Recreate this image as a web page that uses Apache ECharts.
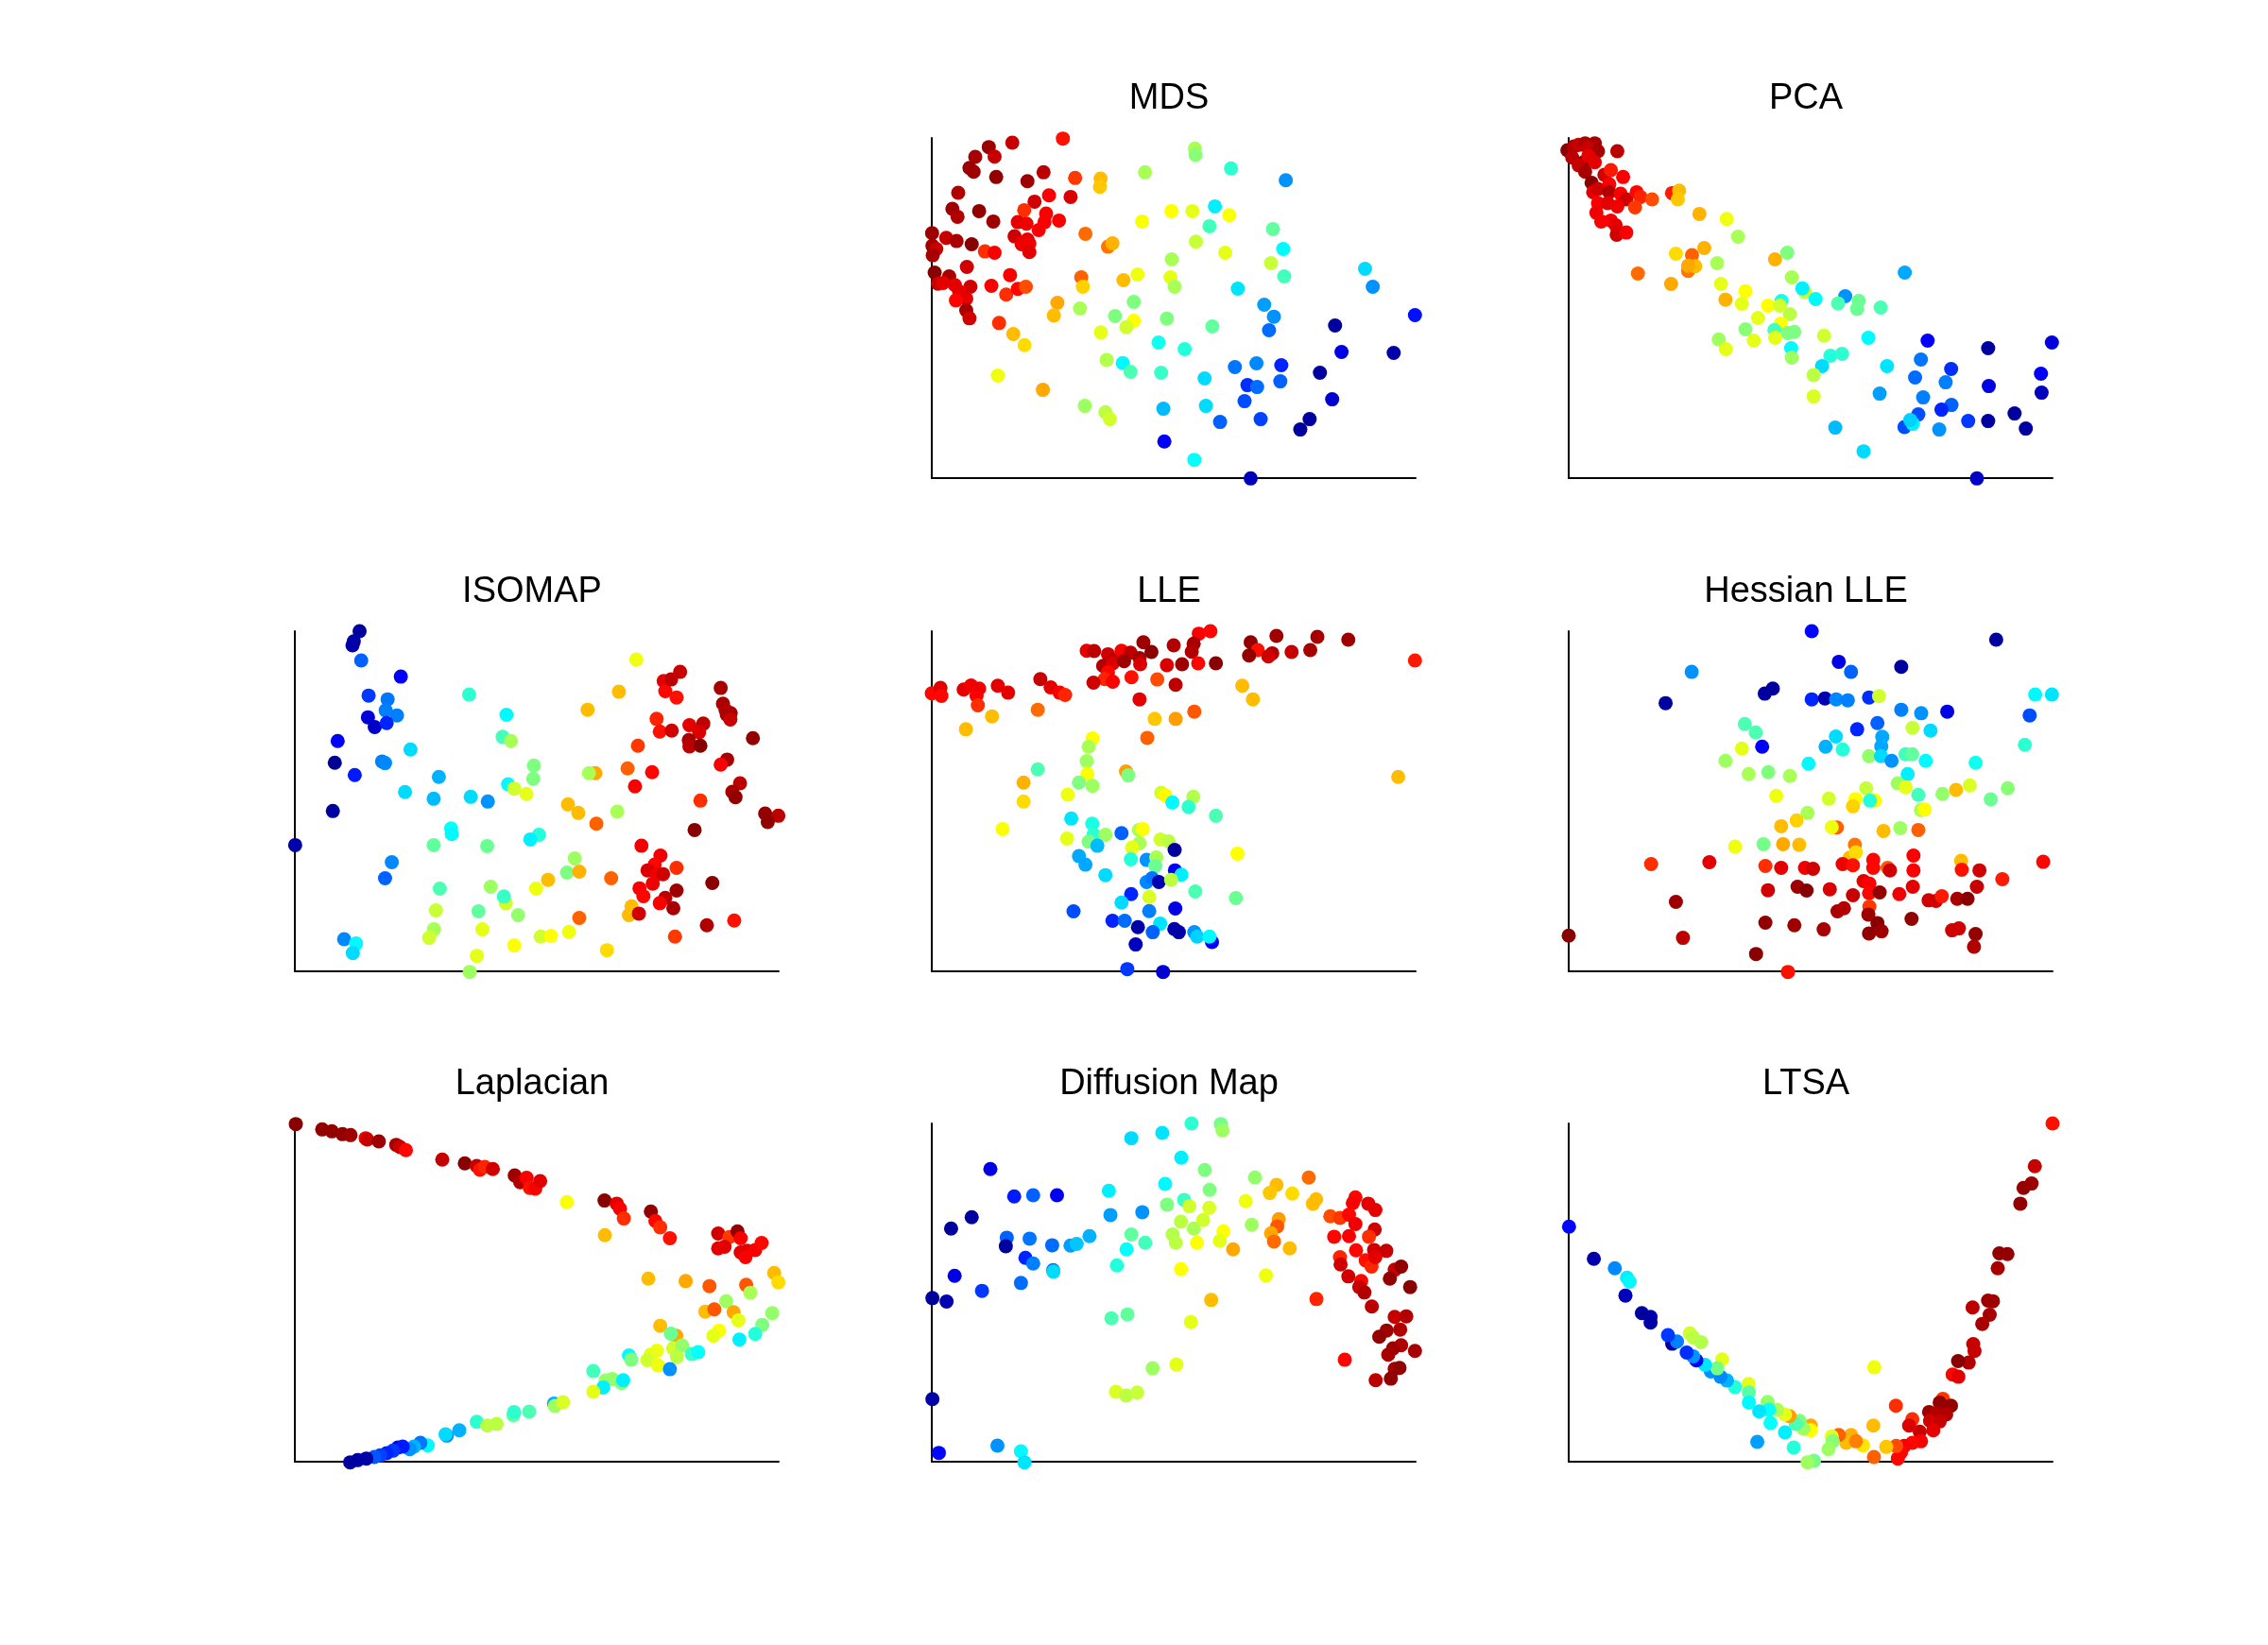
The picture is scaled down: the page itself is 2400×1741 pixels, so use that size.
<!DOCTYPE html>
<html>
<head>
<meta charset="utf-8">
<title>dimensionality reduction</title>
<script src="https://cdn.jsdelivr.net/npm/echarts@6/dist/echarts.min.js"></script>
<style>
  html, body { margin: 0; padding: 0; background: #fff; }
  #main { width: 2400px; height: 1741px; }
</style>
</head>
<body>
<div id="main"></div>
<script>
// every point is [x, y, colour value 0..1]; x/y in arbitrary units (y grows downwards)
var titles = ["MDS", "PCA", "ISOMAP", "LLE", "Hessian LLE", "Laplacian", "Diffusion Map", "LTSA"];
// data extents of each panel: [xmin, xmax], [ytop, ybottom]
var xRanges = [[33,1535],[29,1532],[35,1537],[33,1535],[29,1532],[35,1538],[32,1535],[29,1530]];
var yRanges = [[33,1112],[33,1112],[40,1118],[40,1118],[40,1118],[45,1120],[45,1120],[45,1120]];

var mdsPts = [
[440,35,0.86],[283,48,0.93],[210,62,0.97],[228,92,0.93],[168,93,0.96],[150,128,0.97],[163,140,0.97],[233,157,0.98],
[330,170,0.97],[380,142,0.94],[478,160,0.82],[557,162,0.69],[555,188,0.68],[695,142,0.54],[850,67,0.54],[852,87,0.51],
[962,130,0.42],[1132,167,0.27],[115,207,0.95],[97,258,0.97],[113,283,0.95],[180,265,0.98],[224,298,0.97],[352,235,0.92],
[397,215,0.88],[464,220,0.91],[320,262,0.83],[388,273,0.88],[300,300,0.9],[327,305,0.89],[383,300,0.88],[428,295,0.88],
[365,325,0.88],[290,345,0.92],[330,355,0.9],[312,370,0.89],[336,368,0.89],[336,395,0.9],[34,335,0.97],[78,350,0.93],
[110,360,0.96],[157,370,0.99],[35,375,0.97],[47,385,0.93],[36,405,0.96],[198,393,0.83],[228,397,0.88],[142,442,0.92],
[42,460,0.99],[87,472,0.96],[52,495,0.93],[68,493,0.9],[105,500,0.9],[153,505,0.92],[118,520,0.9],[140,543,0.9],
[108,548,0.87],[140,580,0.96],[150,605,0.92],[218,502,0.88],[276,468,0.88],[264,530,0.83],[300,512,0.87],[325,505,0.8],
[242,620,0.83],[286,655,0.69],[321,690,0.66],[238,787,0.61],[378,832,0.71],[510,337,0.77],[580,378,0.76],[594,367,0.7],
[686,298,0.62],[777,265,0.625],[842,265,0.6],[912,250,0.36],[957,278,0.62],[895,313,0.44],[1092,322,0.47],[1124,385,0.37],
[853,362,0.57],[944,397,0.6],[778,418,0.54],[1086,430,0.57],[1127,472,0.44],[774,475,0.6],[787,505,0.54],[672,466,0.61],
[628,484,0.69],[497,475,0.78],[502,505,0.67],[423,556,0.71],[412,596,0.69],[493,574,0.54],[660,553,0.5],[602,598,0.5],
[660,613,0.625],[637,633,0.58],[558,650,0.6],[763,606,0.5],[904,631,0.47],[983,511,0.35],[1378,448,0.34],[1402,505,0.27],
[1533,595,0.14],[1065,562,0.28],[1095,600,0.27],[1080,643,0.23],[1285,628,0.03],[1305,712,0.1],[1467,715,0.04],[737,682,0.39],
[818,703,0.41],[576,737,0.55],[626,747,0.37],[650,775,0.45],[745,778,0.43],[880,796,0.34],[974,760,0.24],[1041,748,0.26],
[1118,754,0.16],[1013,817,0.17],[1043,823,0.23],[1115,805,0.22],[1238,778,0.03],[1004,868,0.2],[1276,862,0.08],[884,883,0.34],
[752,892,0.31],[508,883,0.53],[572,903,0.56],[586,925,0.58],[928,934,0.22],[1054,925,0.19],[1206,925,0.03],[1177,958,0.03],
[755,996,0.12],[848,1054,0.38],[1023,1113,0.06]
];

var pcaPts = [
[25,72,0.99],[45,60,0.95],[60,55,0.93],[80,50,0.95],[110,50,0.96],[90,65,0.93],[120,75,0.96],[180,75,0.94],
[40,95,0.94],[75,110,0.99],[110,110,0.9],[60,120,0.93],[90,90,0.9],[80,140,0.96],[100,175,0.99],[140,150,0.92],
[160,135,0.85],[198,157,0.88],[155,180,0.88],[105,205,0.9],[120,195,0.92],[155,205,0.95],[190,210,0.88],[208,228,0.92],
[240,205,0.87],[252,220,0.84],[288,228,0.8],[235,253,0.82],[120,240,0.88],[150,240,0.9],[180,250,0.89],[115,270,0.89],
[130,298,0.88],[160,295,0.88],[175,310,0.9],[178,340,0.92],[208,333,0.88],[350,208,0.85],[372,200,0.69],[368,228,0.68],
[435,274,0.7],[520,290,0.61],[555,346,0.54],[362,400,0.66],[412,405,0.78],[450,382,0.7],[400,455,0.76],[422,440,0.69],
[400,438,0.71],[244,463,0.77],[347,496,0.71],[490,430,0.54],[502,496,0.6],[516,546,0.7],[578,519,0.625],[567,559,0.6],
[670,418,0.7],[708,397,0.5],[722,475,0.54],[648,565,0.625],[690,550,0.39],[685,565,0.58],[716,592,0.56],[617,604,0.6],
[688,622,0.625],[668,642,0.44],[670,667,0.6],[710,652,0.5],[730,648,0.5],[578,640,0.51],[604,676,0.6],[495,672,0.53],
[517,703,0.6],[720,700,0.37],[722,730,0.53],[763,522,0.57],[755,510,0.36],[796,544,0.37],[888,535,0.27],[866,558,0.45],
[930,550,0.48],[925,575,0.48],[998,571,0.45],[1073,460,0.29],[822,660,0.58],[960,667,0.37],[842,724,0.41],[878,718,0.42],
[816,757,0.34],[790,785,0.56],[790,853,0.59],[1018,757,0.35],[1144,676,0.12],[1123,736,0.24],[1105,793,0.23],[1200,808,0.25],
[1217,766,0.17],[1130,856,0.25],[995,844,0.28],[1218,880,0.22],[1187,895,0.16],[1115,910,0.2],[1072,950,0.2],[1098,940,0.36],
[1090,928,0.33],[1180,958,0.27],[1270,931,0.18],[1332,700,0.03],[1334,820,0.1],[1332,931,0.03],[1414,907,0.03],[1449,955,0.03],
[1498,841,0.06],[1496,781,0.12],[1530,682,0.09],[857,952,0.31],[945,1027,0.34],[1297,1113,0.07]
];

var isomapPts = [
[236,40,0.03],[218,72,0.04],[214,85,0.04],[241,133,0.22],[364,184,0.12],[264,244,0.18],[323,256,0.24],[317,291,0.25],
[352,307,0.25],[262,313,0.09],[283,344,0.07],[320,331,0.16],[168,388,0.12],[159,457,0.02],[221,496,0.15],[306,453,0.25],
[315,458,0.26],[394,415,0.34],[377,550,0.34],[153,610,0.03],[36,718,0.04],[336,772,0.26],[315,823,0.22],[188,1016,0.26],
[225,1030,0.37],[215,1060,0.34],[576,241,0.42],[692,305,0.37],[680,375,0.44],[706,388,0.54],[482,502,0.3],[466,571,0.31],
[581,565,0.34],[634,580,0.27],[520,665,0.38],[522,683,0.37],[777,466,0.5],[775,508,0.5],[697,525,0.37],[716,539,0.58],
[754,556,0.6],[793,685,0.41],[766,700,0.36],[466,718,0.47],[632,721,0.48],[485,856,0.45],[473,925,0.57],[467,985,0.54],
[452,1012,0.58],[578,1120,0.53],[600,1069,0.6],[605,928,0.47],[617,985,0.6],[643,850,0.53],[690,902,0.58],[684,881,0.43],
[728,940,0.52],[716,1036,0.625],[798,1008,0.58],[830,1006,0.625],[886,993,0.61],[784,856,0.61],[821,828,0.69],[880,805,0.5],
[904,760,0.53],[918,802,0.7],[918,949,0.78],[1004,1051,0.66],[883,589,0.69],[915,616,0.69],[971,650,0.78],[1036,612,0.54],
[968,490,0.71],[948,490,0.54],[944,289,0.69],[1041,232,0.69],[1095,130,0.61],[1068,475,0.78],[1144,487,0.87],[1091,532,0.88],
[1100,403,0.82],[1158,318,0.84],[1168,358,0.86],[1205,355,0.92],[1180,198,0.9],[1185,230,0.87],[1203,193,0.94],[1231,169,0.93],
[1220,250,0.86],[1260,338,0.9],[1303,333,0.94],[1290,360,0.91],[1258,385,0.96],[1260,405,0.94],[1294,403,0.99],[1357,220,0.96],
[1364,270,0.96],[1372,290,0.95],[1388,300,0.96],[1376,305,0.96],[1387,320,0.93],[1457,379,0.98],[1377,447,0.96],[1357,463,0.88],
[1417,522,0.94],[1393,549,0.96],[1403,566,0.98],[1294,577,0.83],[1495,618,0.98],[1536,625,0.94],[1503,645,0.98],[1276,670,0.99],
[1111,720,0.89],[1170,751,0.89],[1220,790,0.83],[1017,823,0.78],[1152,780,0.87],[1130,798,0.91],[1160,810,0.89],[1178,810,0.92],
[1146,840,0.89],[1105,855,0.88],[1117,880,0.87],[1220,862,0.97],[1185,885,0.94],[1168,902,0.88],[1210,918,0.96],[1331,838,0.99],
[1080,912,0.69],[1072,940,0.69],[1103,935,0.92],[1314,972,0.95],[1399,957,0.86],[1215,1008,0.82]
];

var llePts = [
[33,237,0.87],[60,220,0.9],[63,245,0.87],[132,225,0.9],[155,212,0.89],[180,222,0.89],[172,245,0.88],[176,275,0.83],
[238,213,0.9],[270,235,0.9],[220,310,0.69],[139,351,0.69],[370,192,0.93],[402,218,0.9],[430,235,0.88],[447,242,0.84],
[362,289,0.77],[514,102,0.9],[537,103,0.94],[580,113,0.92],[600,130,0.95],[622,102,0.88],[650,108,0.94],[678,125,0.96],
[690,75,0.97],[715,106,0.99],[565,150,0.95],[595,142,0.91],[630,135,0.97],[680,145,0.91],[580,170,0.87],[570,192,0.84],
[595,200,0.88],[535,203,0.92],[653,186,0.86],[678,256,0.9],[733,193,0.8],[784,85,0.95],[763,148,0.91],[810,145,0.97],
[790,210,0.94],[862,48,0.88],[898,40,0.87],[846,80,0.96],[840,105,0.95],[860,142,0.87],[915,142,0.99],[1023,75,0.98],
[1045,100,0.86],[1018,117,0.98],[1090,110,0.95],[1078,120,0.92],[1103,55,0.97],[1150,106,0.93],[1208,100,0.96],[1230,58,0.96],
[1326,67,0.97],[1533,133,0.85],[997,213,0.69],[1030,256,0.69],[725,318,0.68],[790,318,0.72],[848,295,0.79],[702,378,0.78],
[1481,502,0.69],[532,380,0.625],[520,406,0.54],[514,452,0.53],[516,492,0.62],[490,520,0.5],[532,530,0.53],[636,485,0.72],
[643,497,0.5],[362,478,0.45],[318,520,0.7],[318,580,0.66],[455,558,0.61],[253,667,0.62],[745,552,0.58],[758,560,0.63],
[780,583,0.37],[845,565,0.55],[830,597,0.42],[915,625,0.45],[466,634,0.35],[531,650,0.4],[535,685,0.42],[572,685,0.53],
[453,697,0.6],[520,707,0.5],[547,720,0.31],[622,680,0.22],[676,670,0.54],[688,667,0.625],[678,712,0.54],[655,726,0.6],
[743,700,0.58],[768,706,0.56],[787,733,0.03],[982,745,0.625],[490,753,0.29],[510,780,0.29],[651,763,0.41],[700,765,0.27],
[730,757,0.54],[727,784,0.48],[572,813,0.34],[788,798,0.12],[808,812,0.36],[700,835,0.26],[717,823,0.24],[738,835,0.05],
[776,828,0.56],[652,873,0.16],[708,882,0.59],[851,865,0.45],[977,886,0.48],[622,900,0.34],[473,928,0.2],[708,927,0.25],
[789,919,0.1],[594,958,0.16],[632,958,0.23],[742,967,0.35],[673,978,0.04],[719,994,0.22],[786,984,0.04],[800,994,0.04],
[848,994,0.27],[857,1008,0.33],[903,1025,0.12],[895,1008,0.37],[666,1033,0.06],[640,1111,0.18],[751,1120,0.08]
];

var hessianPts = [
[784,40,0.13],[1357,67,0.03],[868,137,0.1],[1062,153,0.03],[906,169,0.22],[411,169,0.27],[330,268,0.03],[638,238,0.03],
[663,222,0.03],[784,256,0.16],[825,253,0.05],[860,256,0.26],[896,259,0.25],[962,250,0.17],[993,246,0.58],[1062,289,0.25],
[1124,300,0.27],[1205,295,0.1],[988,331,0.22],[925,351,0.16],[1097,346,0.57],[1153,355,0.34],[1478,241,0.37],[1530,241,0.35],
[1461,307,0.2],[1446,400,0.42],[576,334,0.45],[610,361,0.45],[567,412,0.6],[630,406,0.12],[516,451,0.53],[588,493,0.54],
[649,487,0.5],[716,499,0.54],[774,460,0.37],[859,374,0.34],[827,406,0.3],[880,415,0.41],[1003,375,0.29],[1000,405,0.29],
[962,436,0.52],[999,436,0.34],[1032,451,0.27],[1075,430,0.44],[1096,430,0.47],[1138,451,0.37],[1293,457,0.39],[1082,493,0.36],
[1051,522,0.53],[1076,535,0.6],[1115,559,0.44],[1190,556,0.52],[1232,543,0.69],[1275,529,0.59],[1340,573,0.48],[1393,538,0.51],
[953,538,0.57],[837,571,0.58],[674,562,0.61],[920,572,0.625],[980,577,0.625],[965,577,0.41],[912,595,0.67],[1123,607,0.54],
[1135,605,0.625],[771,616,0.54],[737,640,0.67],[689,658,0.69],[862,662,0.78],[846,661,0.61],[1007,673,0.69],[1059,664,0.53],
[1115,670,0.78],[546,723,0.61],[634,715,0.49],[695,715,0.71],[745,717,0.69],[918,717,0.76],[902,758,0.69],[921,741,0.66],
[285,778,0.83],[466,772,0.9],[640,784,0.83],[689,790,0.9],[763,790,0.89],[788,793,0.92],[880,778,0.89],[912,782,0.86],
[975,765,0.87],[975,790,0.87],[1020,790,0.79],[1027,798,0.92],[1100,751,0.88],[1100,798,0.88],[1248,768,0.69],[1250,796,0.86],
[1305,798,0.92],[1376,826,0.85],[1503,771,0.87],[648,861,0.92],[740,850,0.97],[768,862,0.99],[840,858,0.91],[912,877,0.93],
[945,832,0.9],[963,840,0.88],[962,870,0.87],[995,868,0.98],[1056,873,0.89],[1098,850,0.9],[1147,893,0.92],[1170,895,0.92],
[1188,880,0.85],[1236,888,0.96],[1268,888,0.99],[1297,850,0.93],[362,898,0.97],[864,928,0.96],[884,918,0.95],[963,913,0.82],
[960,938,0.97],[988,965,0.99],[1001,991,0.97],[962,998,0.98],[1094,952,0.98],[640,964,0.98],[730,972,0.97],[821,985,0.96],
[1220,988,0.92],[1241,982,0.92],[1293,1000,0.98],[1288,1040,0.95],[29,1005,0.99],[384,1012,0.94],[611,1063,0.99],[710,1120,0.86]
];

var laplacianPts = [
[38,47,0.99],[120,64,0.98],[150,70,0.98],[183,79,0.98],[208,82,0.97],[255,92,0.88],[260,96,0.93],[296,102,0.97],
[350,113,0.96],[362,120,0.93],[380,130,0.87],[493,160,0.93],[563,172,0.99],[600,180,0.93],[610,192,0.86],[625,183,0.84],
[650,190,0.92],[718,210,0.97],[735,232,0.95],[755,218,0.88],[765,250,0.86],[782,252,0.88],[797,228,0.9],[880,295,0.62],
[997,290,0.99],[1035,300,0.9],[1045,316,0.88],[1057,347,0.83],[998,400,0.69],[1141,325,0.98],[1155,355,0.87],[1170,375,0.83],
[1200,410,0.86],[1350,395,0.92],[1385,406,0.82],[1410,388,0.98],[1420,410,0.88],[1350,442,0.9],[1370,437,0.9],[1420,455,0.9],
[1440,450,0.9],[1465,447,0.88],[1485,425,0.87],[1435,470,0.88],[1133,538,0.69],[1249,546,0.71],[1323,562,0.79],[1437,558,0.79],
[1450,583,0.54],[1524,520,0.69],[1537,550,0.66],[1375,610,0.53],[1310,643,0.69],[1338,636,0.79],[1398,645,0.71],[1413,671,0.6],
[1518,648,0.52],[1487,685,0.5],[1353,703,0.625],[1335,720,0.6],[1416,732,0.36],[1465,714,0.41],[1170,688,0.69],[1220,720,0.71],
[1203,713,0.48],[1210,760,0.58],[1238,751,0.52],[1160,767,0.61],[1140,780,0.6],[1130,797,0.58],[1163,814,0.61],[1222,787,0.56],
[1268,778,0.43],[1288,772,0.38],[1200,826,0.27],[1073,782,0.37],[1080,796,0.5],[962,832,0.44],[1000,862,0.52],[1021,857,0.52],
[1050,870,0.5],[1055,861,0.36],[993,884,0.36],[962,898,0.6],[840,935,0.3],[843,943,0.53],[868,931,0.59],[763,961,0.45],
[714,972,0.47],[716,962,0.42],[600,993,0.42],[633,1005,0.56],[662,1000,0.56],[546,1020,0.3],[507,1037,0.26],[503,1033,0.34],
[448,1068,0.37],[425,1060,0.24],[405,1072,0.3],[392,1080,0.27],[355,1075,0.12],[370,1072,0.15],[340,1085,0.18],[320,1093,0.16],
[300,1100,0.19],[282,1105,0.21],[257,1110,0.04],[230,1115,0.04],[207,1122,0.03]
];

var diffusionPts = [
[839,45,0.42],[930,47,0.49],[935,67,0.53],[748,75,0.35],[652,92,0.34],[807,154,0.36],[880,193,0.5],[895,256,0.5],
[757,237,0.37],[582,259,0.36],[214,190,0.1],[288,277,0.15],[347,273,0.22],[421,273,0.11],[156,343,0.03],[92,379,0.03],
[587,336,0.28],[686,327,0.27],[763,303,0.5],[816,288,0.43],[832,308,0.58],[894,313,0.59],[806,357,0.56],[846,379,0.54],
[875,352,0.58],[1036,217,0.52],[1103,240,0.69],[1082,266,0.68],[1152,268,0.66],[1203,217,0.77],[1226,286,0.69],[1216,300,0.69],
[1007,292,0.61],[1026,367,0.53],[1110,349,0.72],[1105,372,0.79],[1086,394,0.71],[1095,420,0.77],[1144,442,0.69],[968,445,0.71],
[938,388,0.625],[927,418,0.6],[856,424,0.625],[780,398,0.55],[790,424,0.56],[652,398,0.47],[695,424,0.44],[637,445,0.38],
[607,496,0.41],[806,508,0.625],[1070,528,0.61],[900,606,0.69],[837,676,0.6],[590,664,0.45],[640,652,0.47],[718,823,0.53],
[792,811,0.6],[604,898,0.59],[636,910,0.56],[670,900,0.57],[265,408,0.22],[262,435,0.03],[336,411,0.24],[406,432,0.23],
[463,433,0.28],[482,428,0.32],[522,403,0.3],[323,472,0.16],[347,490,0.25],[409,511,0.23],[410,516,0.34],[103,529,0.1],
[309,552,0.23],[188,577,0.18],[34,600,0.03],[78,611,0.05],[34,921,0.04],[54,1092,0.13],[236,1069,0.27],[309,1087,0.37],
[320,1122,0.35],[1348,280,0.87],[1340,298,0.88],[1388,300,0.9],[1410,320,0.9],[1270,340,0.8],[1300,345,0.82],[1328,335,0.87],
[1348,365,0.89],[1408,382,0.92],[1390,405,0.83],[1282,405,0.87],[1328,403,0.88],[1350,448,0.87],[1406,447,0.92],[1444,450,0.93],
[1300,470,0.84],[1302,493,0.92],[1380,480,0.86],[1398,500,0.84],[1410,470,0.9],[1470,510,0.93],[1490,500,0.98],[1455,538,0.98],
[1518,565,0.99],[1326,531,0.92],[1366,546,0.87],[1360,565,0.93],[1376,582,0.95],[1399,627,0.94],[1227,603,0.84],[1470,660,0.93],
[1506,658,0.95],[1445,703,0.97],[1487,700,0.95],[1422,723,0.98],[1490,750,0.95],[1465,760,0.97],[1450,780,0.96],[1533,768,0.96],
[1470,825,0.96],[1485,822,0.98],[1315,796,0.87],[1411,861,0.94],[1458,856,0.98]
];

var ltsaPts = [
[1530,45,0.86],[1475,181,0.93],[1465,236,0.97],[1440,250,0.98],[1430,300,0.98],[1365,458,0.98],[1390,460,0.98],[1360,505,0.96],
[1330,608,0.97],[1345,610,0.97],[1282,630,0.94],[1335,653,0.96],[1312,682,0.96],[1284,746,0.93],[1288,768,0.93],[1270,805,0.95],
[1237,800,0.99],[1220,843,0.87],[1238,850,0.9],[1190,920,0.82],[1180,932,0.98],[1215,942,0.98],[1147,962,0.97],[1170,965,0.95],
[1200,970,0.95],[1150,990,0.92],[1180,992,0.93],[1160,1020,0.9],[1118,1025,0.93],[1095,985,0.83],[1085,1005,0.91],[1122,1055,0.88],
[1095,1060,0.87],[1070,1070,0.88],[1060,1090,0.87],[1050,1110,0.87],[1045,1070,0.8],[1044,942,0.83],[976,1105,0.78],[974,1005,0.69],
[977,820,0.61],[1014,1073,0.68],[942,1068,0.65],[905,1035,0.7],[890,1060,0.69],[920,1055,0.75],[867,1035,0.78],[845,1040,0.6],
[848,1055,0.51],[835,1080,0.53],[790,1117,0.49],[770,1122,0.53],[780,1005,0.71],[780,1020,0.625],[757,1015,0.53],[745,990,0.5],
[733,1000,0.45],[714,975,0.72],[700,970,0.6],[675,955,0.54],[646,930,0.52],[650,955,0.38],[620,960,0.35],[655,997,0.38],
[700,1027,0.36],[727,1075,0.41],[614,1057,0.28],[587,873,0.6],[588,900,0.46],[588,932,0.37],[545,883,0.41],[520,862,0.3],
[500,850,0.26],[470,833,0.27],[505,795,0.6],[490,823,0.49],[452,812,0.35],[425,798,0.12],[415,785,0.27],[395,773,0.17],
[405,712,0.58],[415,725,0.56],[440,740,0.55],[350,745,0.03],[365,738,0.25],[337,718,0.18],[283,660,0.05],[283,678,0.04],
[256,648,0.03],[205,592,0.06],[210,535,0.36],[218,548,0.37],[172,505,0.26],[107,475,0.04],[30,373,0.13]
];

var allPts = [mdsPts, pcaPts, isomapPts, llePts, hessianPts, laplacianPts, diffusionPts, ltsaPts];

// jet colormap
var jet = ['#00007f', '#0000ff', '#007fff', '#00ffff', '#7fff7f', '#ffff00', '#ff7f00', '#ff0000', '#7f0000'];

var chart = echarts.init(document.getElementById('main'));

// 3x3 subplot layout, first cell left empty
var colLeft = [312, 986, 1660];
var rowTop = [146, 668, 1189];
var rowH = [360, 360, 358];
var cellW = 512;
var cells = [[0,1],[0,2],[1,0],[1,1],[1,2],[2,0],[2,1],[2,2]];

var grid = [], xAxis = [], yAxis = [], series = [], title = [];
var eachOf = function(arr, fn) { for (var i = 0; i < arr.length; i++) fn(i, arr[i]); };
eachOf(cells, function(i, rc) {
	var left = colLeft[rc[1]], top = rowTop[rc[0]];
	grid.push({ left: left, top: top, width: cellW, height: rowH[rc[0]] });
	xAxis.push({
		gridIndex: i, type: 'value', min: xRanges[i][0], max: xRanges[i][1],
		axisLine: { onZero: false, lineStyle: { color: '#000', width: 2 } },
		axisTick: { show: false }, axisLabel: { show: false }, splitLine: { show: false }
	});
	yAxis.push({
		gridIndex: i, type: 'value', inverse: true, min: yRanges[i][0], max: yRanges[i][1],
		axisLine: { show: true, onZero: false, lineStyle: { color: '#000', width: 2 } },
		axisTick: { show: false }, axisLabel: { show: false }, splitLine: { show: false }
	});
	series.push({
		name: titles[i], type: 'scatter', xAxisIndex: i, yAxisIndex: i,
		data: allPts[i], symbolSize: 15, clip: false,
		itemStyle: { opacity: 1 }
	});
	title.push({
		text: titles[i], left: left + cellW / 2 - 5, top: top - 41, padding: 0,
		textAlign: 'center', textVerticalAlign: 'middle',
		textStyle: { fontFamily: 'Liberation Sans', fontSize: 38, fontWeight: 'normal', color: '#000' }
	});
});

chart.setOption({
	animation: false,
	backgroundColor: '#fff',
	title: title,
	grid: grid,
	xAxis: xAxis,
	yAxis: yAxis,
	visualMap: {
		type: 'continuous', show: false, min: 0, max: 1, dimension: 2,
		inRange: { color: jet }
	},
	series: series
});
</script>
</body>
</html>
